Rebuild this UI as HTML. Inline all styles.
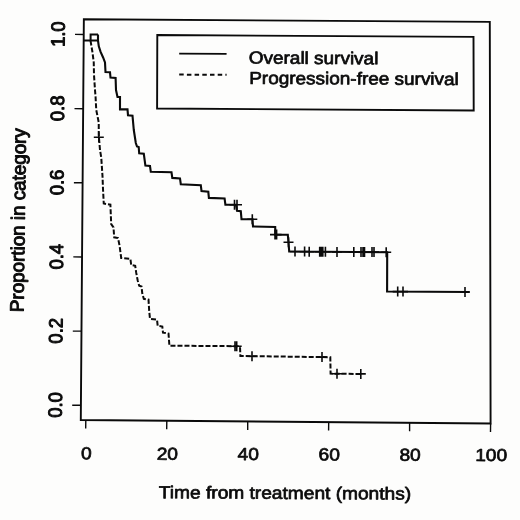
<!DOCTYPE html>
<html><head><meta charset="utf-8"><title>Survival</title>
<style>
html,body{margin:0;padding:0;background:#fdfdfc;}
svg{display:block}
text{font-family:"Liberation Sans",sans-serif;fill:#0a0a0a;stroke:#0a0a0a;stroke-linejoin:round;}
</style></head><body>
<svg width="520" height="520" viewBox="0 0 520 520">
<rect width="520" height="520" fill="#fdfdfc"/>
<g fill="none" stroke="#0a0a0a" stroke-linejoin="miter">
<polygon points="83.85,19.2 489.8,21.9 490.6,423.5 80.8,420" stroke-width="1.9"/>
<path d="M83.7,34.5L75.0,34.4M83.2,108.7L74.5,108.6M82.6,182.8L73.9,182.8M82.0,257.0L73.3,256.9M81.5,331.1L72.8,331.1M80.9,405.3L72.2,405.2M85.8,420.0L85.7,428.5M166.8,420.7L166.7,429.2M247.7,421.4L247.7,429.9M328.7,422.1L328.6,430.6M409.6,422.8L409.6,431.3M490.6,423.5L490.5,432.0" stroke-width="1.4"/>
<polygon points="157.3,35 473.5,36.9 473.7,110.5 157.1,108.5" stroke-width="1.9"/>
<path d="M179.2,53.6L226.6,53.8" stroke-width="1.8"/>
<path d="M179.2,74.6L226.6,74.8" stroke-width="2" stroke-dasharray="4.5 3.2"/>
<path d="M84,40.6H98M90.6,40.6V34.6H98" stroke-width="2"/>
<polyline points="98,34.6 98,40.6 98.8,46.3 100.6,51.9 103.1,57.5 105,62.5 105.5,72 110,72.3 110.5,77.6 115.6,78 116,90 117.5,97 120,97 120,109.4 127.5,109.4 128,115.2 132.5,115.6 133.8,130 135.8,143 137,146.5 138.7,147 139.2,153.3 143.8,153.8 145.4,165.6 150,166 150.8,171.8 171.5,172.3 172.3,177.9 180,178.4 180.8,184.2 200.8,185.2 201.5,191 208.3,191.8 208.9,197.9 224.6,198.5 225.4,204.6 236,204.8 237,210.9 240.8,211.3 241.5,219.2 252.5,219.3 253,226.5 275.2,227 275.4,234.6 287.8,234.7 288.5,242.3 289.2,251.5 387.2,252.2 387.1,291.5 469.4,292" stroke-width="2.1"/>
<polyline points="90.5,40.6 91.25,45 92.5,52.5 93.75,62.5 94,75 95,90 95.6,97.5 96.25,110 98.75,122.5 98.75,135 100,150 101.25,157.5 102.5,176 103,189 103.75,203.5 110.4,204.7 111.2,224.2 113.5,227.3 114.2,237.3 118,238 119.6,245.8 121.2,258 130.4,258.8 131.2,265 135.2,265.8 136.2,272.7 137.7,280.4 139.2,285.8 141.5,286.5 142.3,293.5 143.8,298.8 148.5,299.6 149.2,311 150,318.8 157,319.6 157.7,325.8 162.3,326.5 163,332.7 168.5,333.5 169.4,345.7 238,346.2 240,347 240.4,356 330.3,357.2 330.6,373.6 362,374" stroke-width="2.0" stroke-dasharray="5 2"/>
<path d="M229.5,204.7H239.5M234.5,199.7V209.7M232.0,204.7H242.0M237.0,199.7V209.7M247.3,219.3H257.3M252.3,214.3V224.3M270.0,234.6H280.0M275.0,229.6V239.6M271.6,234.6H281.6M276.6,229.6V239.6M283.5,242.3H293.5M288.5,237.3V247.3M290.0,251.5H300.0M295.0,246.5V256.5M299.6,251.6H309.6M304.6,246.6V256.6M304.2,251.7H314.2M309.2,246.7V256.7M314.7,251.7H324.7M319.7,246.7V256.7M316.2,251.7H326.2M321.2,246.7V256.7M317.8,251.8H327.8M322.8,246.8V256.8M320.4,251.8H330.4M325.4,246.8V256.8M332.0,251.9H342.0M337.0,246.9V256.9M348.8,252.0H358.8M353.8,247.0V257.0M356.0,252.0H366.0M361.0,247.0V257.0M358.0,252.1H368.0M363.0,247.1V257.1M359.5,252.1H369.5M364.5,247.1V257.1M367.0,252.1H377.0M372.0,247.1V257.1M369.0,252.1H379.0M374.0,247.1V257.1M381.2,252.2H391.2M386.2,247.2V257.2M392.7,291.6H402.7M397.7,286.6V296.6M398.0,291.6H408.0M403.0,286.6V296.6M460.0,292.0H470.0M465.0,287.0V297.0M93.8,137.2H103.8M98.8,132.2V142.2M230.0,346.3H240.0M235.0,341.3V351.3M231.7,346.3H241.7M236.7,341.3V351.3M247.0,356.3H257.0M252.0,351.3V361.3M317.0,357.1H327.0M322.0,352.1V362.1M332.0,373.7H342.0M337.0,368.7V378.7M355.8,373.9H365.8M360.8,368.9V378.9" stroke-width="1.6"/>
</g>
<text text-anchor="middle" font-size="19.3" stroke-width="1.0" transform="translate(64.7 34.2) rotate(-89.5) scale(0.96 1)">1.0</text>
<text text-anchor="middle" font-size="19.3" stroke-width="1.0" transform="translate(64.1 108.4) rotate(-89.5) scale(0.96 1)">0.8</text>
<text text-anchor="middle" font-size="19.3" stroke-width="1.0" transform="translate(63.6 182.5) rotate(-89.5) scale(0.96 1)">0.6</text>
<text text-anchor="middle" font-size="19.3" stroke-width="1.0" transform="translate(63.0 256.7) rotate(-89.5) scale(0.96 1)">0.4</text>
<text text-anchor="middle" font-size="19.3" stroke-width="1.0" transform="translate(62.4 330.8) rotate(-89.5) scale(0.96 1)">0.2</text>
<text text-anchor="middle" font-size="19.3" stroke-width="1.0" transform="translate(61.9 405.0) rotate(-89.5) scale(0.96 1)">0.0</text>
<text text-anchor="middle" font-size="17.4" stroke-width="0.7" transform="translate(86.3 459.4) rotate(0.4) scale(1.1 1)">0</text>
<text text-anchor="middle" font-size="17.4" stroke-width="0.7" transform="translate(167.3 459.7) rotate(0.4) scale(1.1 1)">20</text>
<text text-anchor="middle" font-size="17.4" stroke-width="0.7" transform="translate(248.2 460.0) rotate(0.4) scale(1.1 1)">40</text>
<text text-anchor="middle" font-size="17.4" stroke-width="0.7" transform="translate(329.2 460.4) rotate(0.4) scale(1.1 1)">60</text>
<text text-anchor="middle" font-size="17.4" stroke-width="0.7" transform="translate(410.1 460.7) rotate(0.4) scale(1.1 1)">80</text>
<text text-anchor="middle" font-size="17.4" stroke-width="0.7" transform="translate(491.1 461.0) rotate(0.4) scale(1.1 1)">100</text>
<text text-anchor="middle" font-size="17.4" stroke-width="0.7" transform="translate(285.0 498.9) rotate(0.3) scale(1.1 1)">Time from treatment (months)</text>
<text text-anchor="middle" font-size="19.3" stroke-width="1.0" transform="translate(24.8 220.2) rotate(-89.26) scale(0.975 1)">Proportion in category</text>
<text text-anchor="start" font-size="17.4" stroke-width="0.7" transform="translate(248.8 63.6) rotate(0.3) scale(1.09 1)">Overall survival</text>
<text text-anchor="start" font-size="17.4" stroke-width="0.7" transform="translate(249.2 83.9) rotate(0.3) scale(1.09 1)">Progression-free survival</text>
</svg>
</body></html>
